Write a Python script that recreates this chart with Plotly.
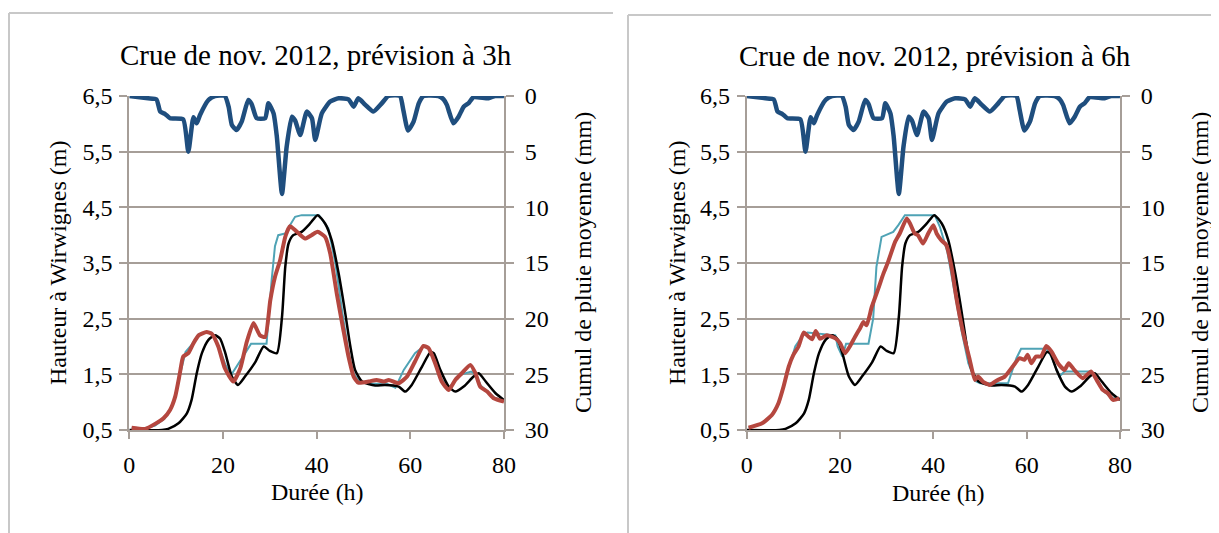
import plotly.graph_objects as go

# --- data --------------------------------------------------------------
# average cumulative rainfall (mm), same in both panels
rain_t = [0, 4, 5.8, 6.6, 7.6, 8.7, 11.5, 12.6, 13.7, 14.4, 15.1, 16.9, 18.3, 20.4, 21.2,
          21.9, 22.9, 24.0, 25.4, 26.1, 27.2, 29.0, 29.7, 30.8, 31.5, 32.6, 33.6, 34.7, 35.4,
          36.5, 37.9, 39.0, 39.7, 41.1, 42.9, 44.7, 46.8, 47.9, 48.9, 50.4, 52.1, 53.9, 55.3,
          57.8, 58.5, 59.5, 60.7, 61.8, 62.8, 66.0, 67.1, 67.8, 69.2, 70.3, 71.4, 72.4, 73.5,
          76.7, 78.1, 80]
rain_mm = [0, 0.2, 0.3, 1.4, 1.6, 2.0, 2.1, 5.0, 1.9, 2.45, 1.7, 0.36, 0, 0, 0.96,
           2.6, 3.05, 2.3, 0.36, 0.7, 2.0, 2.0, 0.66, 1.56, 3.65, 8.8, 4.55, 1.86, 2.2,
           3.5, 1.4, 2.0, 3.95, 1.56, 0.5, 0.2, 0.3, 0.96, 0.2, 0.8, 1.4, 0.66, 0,
           0, 1.26, 3.1, 2.3, 0.66, 0, 0, 0.3, 0.8, 2.45, 1.86, 0.96, 0.66, 0.1,
           0.2, 0, 0]

# observed water level (m), same in both panels
obs_t = [0, 7, 8.3, 10.5, 12.3, 13.3, 14.4, 15.5, 16.9, 18.3, 19.4, 20.5, 21.9, 23.2, 24.7,
         26.9, 28.7, 30, 31.5, 32.6, 33.3, 34.0, 35.0, 36.8, 38.6, 40.2, 41.8, 43.2, 44.7,
         46.1, 47.2, 48.2, 49.7, 52.5, 54.6, 57.5, 58.9, 60.3, 62.5, 64.3, 65.0, 66.4, 68.2,
         69.6, 71.4, 73.5, 74.6, 76.1, 78.2, 80]
obs_h = [0.5, 0.5, 0.52, 0.62, 0.8, 1.04, 1.52, 1.88, 2.12, 2.2, 2.14, 1.88, 1.46, 1.31, 1.46,
         1.72, 2.0, 1.92, 1.88, 2.53, 3.43, 3.85, 4.0, 4.06, 4.21, 4.36, 4.21, 3.91, 3.31,
         2.6, 2.0, 1.58, 1.37, 1.3, 1.31, 1.28, 1.19, 1.31, 1.64, 1.9, 1.88, 1.58, 1.28,
         1.19, 1.28, 1.46, 1.52, 1.37, 1.16, 1.04]

# 3h forecast panel
fc3_t = [0.5, 3.4, 5.5, 7.3, 8.7, 9.8, 10.8, 11.5, 12.6, 13.7, 14.8, 16.5, 17.6, 19.0, 20.4,
         22.2, 23.7, 25.1, 26.5, 27.9, 29.0, 30.1, 31.1, 32.2, 33.3, 34.3, 35.4, 37.5, 38.9,
         40.2, 41.8, 42.9, 44.3, 45.7, 46.8, 47.9, 48.9, 51.1, 52.8, 54.3, 55.4, 57.5, 59.3,
         61.0, 62.8, 63.9, 65.3, 66.7, 68.2, 69.6, 71.0, 72.8, 73.9, 74.9, 76.4, 77.8, 80]
fc3_h = [0.54, 0.52, 0.61, 0.71, 0.86, 1.1, 1.52, 1.82, 1.88, 2.06, 2.2, 2.26, 2.23, 2.0, 1.61,
         1.37, 1.61, 2.09, 2.42, 2.2, 2.17, 2.83, 3.25, 3.55, 3.97, 4.16, 4.09, 3.94, 4.0,
         4.06, 3.97, 3.67, 2.95, 2.3, 1.82, 1.46, 1.35, 1.37, 1.4, 1.37, 1.4, 1.34, 1.46,
         1.73, 2.01, 1.97, 1.7, 1.37, 1.22, 1.4, 1.52, 1.67, 1.52, 1.28, 1.19, 1.07, 1.01]
ref3_t = [0.5, 3, 5.5, 7.5, 9, 10, 11, 12, 13.3, 14.8, 16.5, 17.6, 19, 20.4, 21.6, 22.8, 24.5,
          26, 29.3, 30.4, 31.1, 31.8, 33.3, 34.3, 35.4, 36.8, 40.5, 42.5, 44, 45.5, 46.8, 48,
          49.2, 52, 55, 56.8, 58.6, 61, 62.8, 64, 65.3, 66.8, 68.2, 69.8, 71, 73, 74, 75,
          76.4, 78, 80]
ref3_h = [0.54, 0.52, 0.58, 0.7, 0.9, 1.15, 1.55, 1.9, 2.03, 2.22, 2.26, 2.25, 2.02, 1.7, 1.47,
          1.62, 1.85, 2.05, 2.05, 3.2, 3.8, 4.0, 4.03, 4.18, 4.33, 4.36, 4.36, 4.12, 3.5, 2.6,
          1.9, 1.5, 1.36, 1.33, 1.33, 1.26, 1.58, 1.88, 2.0, 1.97, 1.72, 1.4, 1.25, 1.42, 1.5,
          1.55, 1.5, 1.3, 1.2, 1.08, 1.02]

# 6h forecast panel
fc6_t = [0.4, 3.3, 5.4, 6.8, 7.9, 9.0, 10.0, 11.1, 12.2, 13.2, 14.0, 14.8, 15.7, 17.2, 19.1,
         20.0, 21.1, 22.1, 23.2, 24.3, 25.0, 25.7, 26.8, 28.2, 29.3, 30.3, 31.8, 32.8, 34.3,
         35.0, 36.0, 36.7, 37.8, 38.9, 40.0, 40.7, 41.7, 42.8, 43.9, 44.9, 46.4, 47.8, 48.9,
         49.6, 50.6, 52.1, 53.8, 55.3, 57.0, 58.5, 59.5, 60.2, 61.0, 62.0, 63.1, 64.2, 65.3,
         66.7, 68.1, 69.0, 70.2, 72.0, 73.8, 75.2, 76.3, 77.4, 78.5, 79.9]
fc6_h = [0.54, 0.62, 0.77, 0.98, 1.28, 1.64, 1.85, 2.0, 2.25, 2.18, 2.13, 2.28, 2.14, 2.2, 2.14,
         2.06, 1.88, 2.0, 2.17, 2.33, 2.44, 2.38, 2.71, 3.04, 3.31, 3.52, 3.88, 4.03, 4.3,
         4.21, 4.03, 4.0, 3.85, 4.03, 4.18, 4.03, 3.91, 3.82, 3.43, 2.89, 2.24, 1.76, 1.4,
         1.46, 1.37, 1.31, 1.4, 1.46, 1.64, 1.79, 1.76, 1.85, 1.7, 1.82, 1.82, 2.01, 1.91,
         1.7, 1.58, 1.7, 1.58, 1.43, 1.55, 1.37, 1.22, 1.16, 1.04, 1.07]
ref6_t = [0.4, 3, 5, 7, 8.5, 10.4, 12, 13, 19, 19.5, 20.5, 21.3, 26.1, 27.1, 27.8, 28.9, 31.4,
          32.5, 33.9, 40.3, 41.4, 43, 44.5, 46, 47.5, 49, 50, 56, 57.8, 58.8, 64.2, 65.3, 67,
          68.1, 73.8, 75.2, 76.5, 78.3, 80]
ref6_h = [0.54, 0.6, 0.72, 1.0, 1.45, 2.0, 2.2, 2.25, 2.2, 2.0, 1.82, 2.05, 2.05, 2.5, 3.43,
          3.97, 4.06, 4.18, 4.36, 4.36, 4.15, 3.7, 3.0, 2.3, 1.7, 1.38, 1.34, 1.34, 1.79, 1.96,
          1.96, 1.82, 1.46, 1.55, 1.55, 1.37, 1.2, 1.07, 1.07]

h_ticks = [0.5, 1.5, 2.5, 3.5, 4.5, 5.5, 6.5]
h_labels = ["0,5", "1,5", "2,5", "3,5", "4,5", "5,5", "6,5"]
rain_ticks = [0, 5, 10, 15, 20, 25, 30]
x_ticks = [0, 20, 40, 60, 80]

BLUE = "#1F4E7E"
RED = "#B5473F"
TEAL = "#4FA3B5"
GRID = "#A69E98"
FONT = "Liberation Serif, Times New Roman, DejaVu Serif, serif"

# the page keeps its default 8px body margin, so the figure is shifted by it
OFF = 8
W, H = 1219 - OFF, 533 - OFF


def px(x):
    return (x - OFF) / W


def py(y):
    return 1 - (y - OFF) / H


fig = go.Figure()

panels = [
    dict(x="x", y="y", y2="y2", ref_t=ref3_t, ref_h=ref3_h, fc_t=fc3_t, fc_h=fc3_h),
    dict(x="x2", y="y3", y2="y4", ref_t=ref6_t, ref_h=ref6_h, fc_t=fc6_t, fc_h=fc6_h),
]
for p in panels:
    fig.add_trace(go.Scatter(x=p["ref_t"], y=p["ref_h"], mode="lines", xaxis=p["x"], yaxis=p["y"],
                             line=dict(color=TEAL, width=2)))
    fig.add_trace(go.Scatter(x=obs_t, y=obs_h, mode="lines", xaxis=p["x"], yaxis=p["y"],
                             line=dict(color="black", width=2.5, shape="spline", smoothing=0.6)))
    fig.add_trace(go.Scatter(x=p["fc_t"], y=p["fc_h"], mode="lines", xaxis=p["x"], yaxis=p["y"],
                             line=dict(color=RED, width=4, shape="spline", smoothing=0.5)))
    fig.add_trace(go.Scatter(x=rain_t, y=rain_mm, mode="lines", xaxis=p["x"], yaxis=p["y2"],
                             line=dict(color=BLUE, width=4.5, shape="spline", smoothing=0.5)))

tickfont = dict(family=FONT, size=24, color="black")
y_dom = [py(430), py(96)]

xcommon = dict(range=[0, 80], tickvals=x_ticks, showgrid=False, showline=True, linecolor=GRID,
               linewidth=2, ticks="outside", ticklen=7, tickcolor=GRID, tickwidth=2,
               tickfont=tickfont, zeroline=False, ticklabelstandoff=5, automargin=False)
ycommon = dict(range=[0.5, 6.5], tickvals=h_ticks, ticktext=h_labels, showgrid=True,
               gridcolor=GRID, gridwidth=2, showline=True, linecolor=GRID, linewidth=2,
               ticks="outside", ticklen=8, tickcolor=GRID, tickwidth=2, tickfont=tickfont,
               zeroline=False, domain=y_dom, automargin=False, ticklabelstandoff=2)
y2common = dict(range=[30, 0], tickvals=rain_ticks, showgrid=False, showline=True,
                linecolor=GRID, linewidth=2, ticks="outside", ticklen=8, tickcolor=GRID,
                tickwidth=2, tickfont=tickfont, zeroline=False, side="right",
                ticklabelstandoff=6, automargin=False)

fig.update_layout(
    width=W, height=H,
    margin=dict(l=0, r=0, t=0, b=0, autoexpand=False),
    paper_bgcolor="white", plot_bgcolor="white",
    showlegend=False,
    font=dict(family=FONT, color="black"),
    xaxis=dict(xcommon, domain=[px(129.3), px(504)], anchor="y"),
    yaxis=dict(ycommon, anchor="x"),
    yaxis2=dict(y2common, anchor="x", overlaying="y"),
    xaxis2=dict(xcommon, domain=[px(746.7), px(1120)], anchor="y3"),
    yaxis3=dict(ycommon, anchor="x2"),
    yaxis4=dict(y2common, anchor="x2", overlaying="y3"),
)

# panel titles and axis titles
texts = [
    ("Crue de nov. 2012, prévision à 3h", 316, 55, 29, 0),
    ("Crue de nov. 2012, prévision à 6h", 935, 56, 29, 0),
    ("Durée (h)", 318, 492, 24, 0),
    ("Durée (h)", 938, 493, 24, 0),
    ("Hauteur à Wirwignes (m)", 58, 263, 24, -90),
    ("Hauteur à Wirwignes (m)", 677, 263, 24, -90),
    ("Cumul de pluie moyenne (mm)", 583, 263, 24, -90),
    ("Cumul de pluie moyenne (mm)", 1200, 263, 24, -90),
]
for txt, x, y, size, ang in texts:
    fig.add_annotation(text=txt, x=px(x), y=py(y), xref="paper", yref="paper",
                       showarrow=False, textangle=ang, xanchor="center", yanchor="middle",
                       font=dict(family=FONT, size=size, color="black"))

# light frames round each chart
FRAME = "#C8C8C8"
for x0, y0, x1 in [(9, 13, 613), (628, 15, 1219)]:
    fig.add_shape(type="line", xref="paper", yref="paper", x0=px(x0), y0=py(y0),
                  x1=px(x1), y1=py(y0), line=dict(color=FRAME, width=2))
    fig.add_shape(type="line", xref="paper", yref="paper", x0=px(x0), y0=py(y0),
                  x1=px(x0), y1=0, line=dict(color=FRAME, width=2))

fig.write_html("out.html")
